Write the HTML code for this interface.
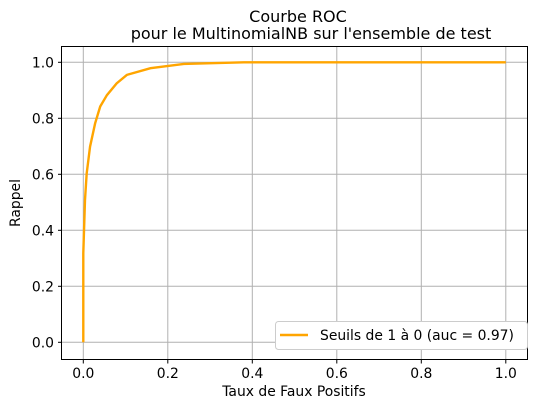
<!DOCTYPE html>
<html><head><meta charset="utf-8"><style>
body{margin:0;background:#fff;font-family:"DejaVu Sans","Liberation Sans",sans-serif}
</style></head><body>
<svg id="chart" width="536" height="409" xmlns="http://www.w3.org/2000/svg" font-family="DejaVu Sans, Liberation Sans, sans-serif">
<rect width="536" height="409" fill="#fff"/>
<text x="298" y="22" text-anchor="middle" font-size="16">Courbe ROC</text>
<text x="311" y="39" text-anchor="middle" font-size="16">pour le MultinomialNB sur l'ensemble de test</text>
<g id="grid"></g>
<g id="ticks" font-size="13.9"></g>
<path id="roc" fill="none" stroke="#ffa500" stroke-width="2.4"/>
<rect x="61.5" y="46.5" width="466" height="313" fill="none" stroke="#000" stroke-width="1"/>
<text x="294" y="396" text-anchor="middle" font-size="13.9">Taux de Faux Positifs</text>
<text transform="translate(20,203) rotate(-90)" text-anchor="middle" font-size="13.9">Rappel</text>
<g>
<rect x="275.5" y="321.5" width="252" height="28" rx="3" fill="#fff" stroke="#ccc"/>
<line x1="280" y1="335" x2="308" y2="335" stroke="#ffa500" stroke-width="2.4"/>
<text x="320" y="340" font-size="13.9">Seuils de 1 à 0 (auc = 0.97)</text>
</g>
</svg>
<script>
const fpr=[0,0,0.004,0.008,0.016,0.028,0.04,0.056,0.079,0.103,0.159,0.238,0.38,1.0];
const tpr=[0,0.318,0.508,0.603,0.699,0.782,0.842,0.883,0.925,0.955,0.979,0.994,1.0,1.0];
const xTicks=[0,0.2,0.4,0.6,0.8,1.0];
const yTicks=[0,0.2,0.4,0.6,0.8,1.0];
const xS=v=>83.3+v*422.5, yS=v=>342.3-v*280;
const NS="http://www.w3.org/2000/svg";
const g=document.getElementById('grid'),t=document.getElementById('ticks');
function mk(tag,a,p){const e=document.createElementNS(NS,tag);for(const k in a)e.setAttribute(k,a[k]);p.appendChild(e);return e;}
xTicks.forEach(v=>{const x=xS(v);
const l=mk('line',{x1:x,x2:x,y1:47,y2:359,stroke:'#b0b0b0','stroke-width':1},g);


mk('line',{x1:x,x2:x,y1:360,y2:363.5,stroke:'#000'},t);
const tx=mk('text',{x:x,y:378,'text-anchor':'middle'},t);tx.textContent=v.toFixed(1);

});
yTicks.forEach(v=>{const y=yS(v);
const l=mk('line',{x1:62,x2:527,y1:y,y2:y,stroke:'#b0b0b0','stroke-width':1},g);


mk('line',{x1:58,x2:61.5,y1:y,y2:y,stroke:'#000'},t);
const tx=mk('text',{x:54,y:y+5,'text-anchor':'end'},t);tx.textContent=v.toFixed(1);

});
document.getElementById('roc').setAttribute('d',fpr.map((v,i)=>(i?'L':'M')+xS(v)+','+yS(tpr[i])).join(''));
</script>
</body></html>
